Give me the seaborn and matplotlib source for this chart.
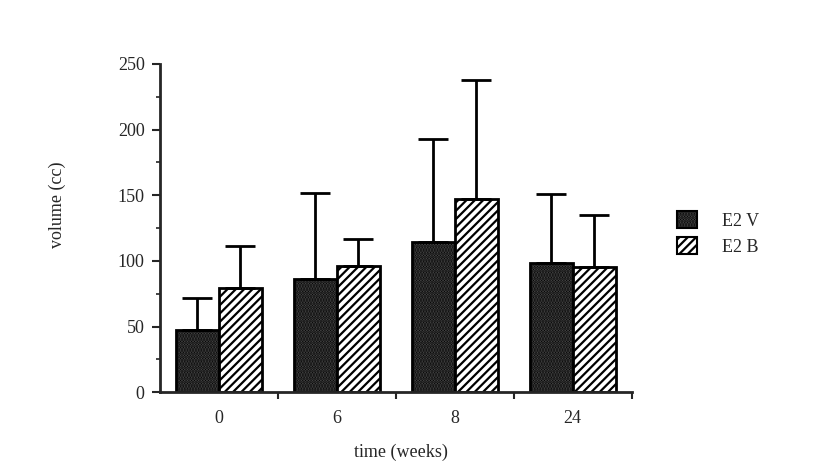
import matplotlib
matplotlib.use("Agg")
import matplotlib.pyplot as plt
from matplotlib.patches import Patch
import seaborn as sns
import pandas as pd

# data
times = ["0", "6", "8", "24"]
groups = ["E2 V", "E2 B"]
mean_v = [47, 86, 114, 98]
sd_v = [25, 66, 79, 53]
mean_b = [79, 96, 147, 95]
sd_b = [32, 21, 91, 40]

rows = []
for i, t in enumerate(times):
    rows.append([t, "E2 V", mean_v[i], sd_v[i]])
    rows.append([t, "E2 B", mean_b[i], sd_b[i]])
df = pd.DataFrame(rows, columns=["time", "group", "volume", "sd"])

sns.set_theme(style="ticks")
plt.rcParams["font.family"] = ["Liberation Serif", "DejaVu Serif"]
plt.rcParams["hatch.linewidth"] = 1.6

fig = plt.figure(figsize=(8.16, 4.63), dpi=100)
ax = fig.add_axes([0.196, 0.153, 0.578, 0.709])

dark = "#555555"
sns.barplot(data=df, x="time", y="volume", hue="group", order=times,
            hue_order=groups, palette=[dark, "white"], width=0.73,
            errorbar=None, edgecolor="black", linewidth=2, ax=ax, legend=False)

# hatching + upward error bars
bars = list(ax.containers)
for k, cont in enumerate(bars):
    g = groups[k]
    sub = df[df["group"] == g].set_index("time").loc[times]
    for bar, sd in zip(cont, sub["sd"]):
        bar.set_hatch("......" if g == "E2 V" else "////")
        x = bar.get_x() + bar.get_width() / 2
        h = bar.get_height()
        ax.errorbar(x, h, yerr=[[0], [sd]], color="black", lw=2,
                    capsize=11, capthick=2, zorder=1)

ax.set_ylim(0, 250)
ax.set_xlim(-0.5, 3.5)
ax.set_yticks(range(0, 251, 50))
ax.set_yticks(range(25, 250, 50), minor=True)
ax.set_xticks([0.5, 1.5, 2.5, 3.5], minor=True)
ax.tick_params(axis="x", which="major", length=0, pad=13, labelsize=13)
ax.tick_params(axis="x", which="minor", length=5, width=1.5, direction="out")
ax.tick_params(axis="y", which="major", length=6, width=1.5, labelsize=13, pad=5)
ax.tick_params(axis="y", which="minor", length=3, width=1.2)
for s in ["left", "bottom"]:
    ax.spines[s].set_linewidth(2)
sns.despine(ax=ax)

ax.set_xlabel("time (weeks)", fontsize=13)
ax.set_ylabel("volume (cc)", fontsize=13)
ax.xaxis.set_label_coords(0.51, -0.158)
ax.yaxis.set_label_coords(-0.2, 0.57)

# legend
handles = [Patch(facecolor=dark, edgecolor="black", hatch="......", lw=1.5),
           Patch(facecolor="white", edgecolor="black", hatch="////", lw=1.5)]
fig.legend(handles, groups, loc="upper left", bbox_to_anchor=(677 / 816, 1 - 211 / 463),
           frameon=False, fontsize=13, handlelength=1.1, handleheight=1.1,
           handletextpad=1.4, labelspacing=0.4, borderpad=0, borderaxespad=0)

fig.savefig("out.png", dpi=100)
